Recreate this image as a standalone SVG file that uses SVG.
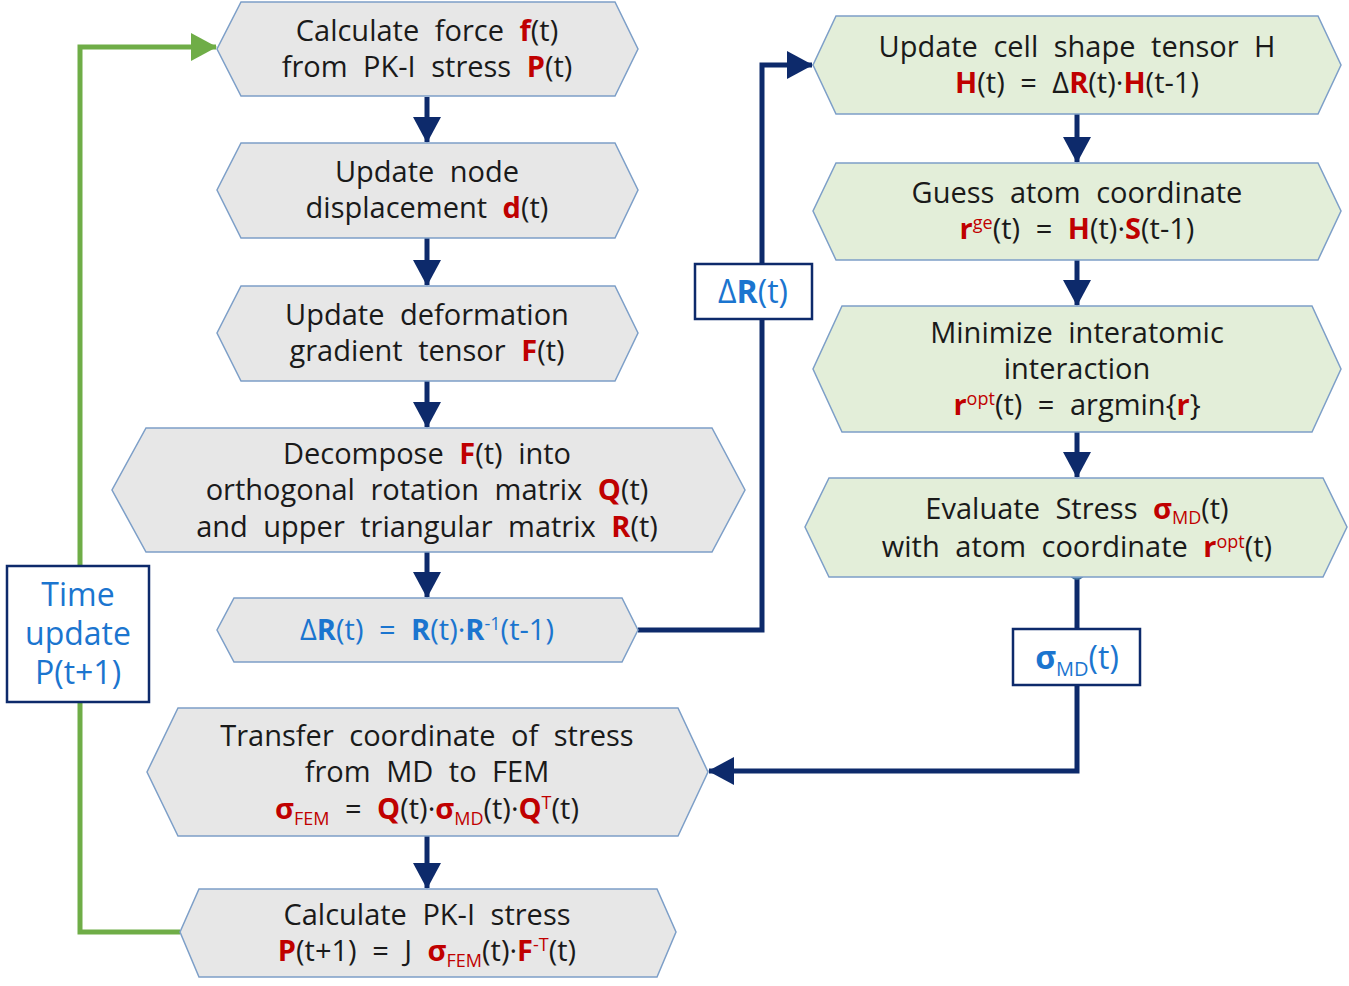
<svg xmlns="http://www.w3.org/2000/svg" width="1349" height="986" viewBox="0 0 1349 986">
<defs>
<style>
.g{fill:#e7e7e7;stroke:#7d9fc8;stroke-width:1.5}
.gr{fill:#e3eed9;stroke:#7d9fc8;stroke-width:1.5}
text{font-family:"Open Sans","Noto Sans",sans-serif;font-size:29px;fill:#1a1a1a;text-anchor:middle;word-spacing:8px}
.r{fill:#c00000;font-weight:bold}
.rn{fill:#c00000}
.b{fill:#1b75cf}
.bb{fill:#1b75cf;font-weight:bold}
.s{font-size:18px}
.c{fill:none;stroke:#0d2a6b;stroke-width:5}
.cg{fill:none;stroke:#6fad47;stroke-width:5}
.lb{fill:#fff;stroke:#0d2a6b;stroke-width:2.5}
</style>
<marker id="a" markerUnits="userSpaceOnUse" viewBox="0 0 26 28" refX="25" refY="14" markerWidth="26" markerHeight="28" orient="auto"><path d="M0,0 L26,14 L0,28 z" fill="#0d2a6b"/></marker>
<marker id="ag" markerUnits="userSpaceOnUse" viewBox="0 0 26 28" refX="25" refY="14" markerWidth="26" markerHeight="28" orient="auto"><path d="M0,0 L26,14 L0,28 z" fill="#6fad47"/></marker>
</defs>
<rect width="1349" height="986" fill="#fff"/>

<g id="connectors">
<line class="c" x1="427" y1="97" x2="427" y2="142" marker-end="url(#a)"/>
<line class="c" x1="427" y1="238" x2="427" y2="285" marker-end="url(#a)"/>
<line class="c" x1="427" y1="381" x2="427" y2="427" marker-end="url(#a)"/>
<line class="c" x1="427" y1="552" x2="427" y2="597" marker-end="url(#a)"/>
<line class="c" x1="427" y1="836" x2="427" y2="888" marker-end="url(#a)"/>
<line class="c" x1="1077" y1="114" x2="1077" y2="162" marker-end="url(#a)"/>
<line class="c" x1="1077" y1="260" x2="1077" y2="305" marker-end="url(#a)"/>
<line class="c" x1="1077" y1="432" x2="1077" y2="477" marker-end="url(#a)"/>
<polyline class="c" points="638,630 762,630 762,65 812,65" marker-end="url(#a)"/>
<polyline class="c" points="1077,571 1077,771 709,771" marker-end="url(#a)"/>
<polyline class="cg" points="180,932 80,932 80,47 216,47" marker-end="url(#ag)"/>
<circle cx="1077" cy="571" r="8" fill="#5b9bd5" stroke="#41719c" stroke-width="1.5"/>
</g>

<g id="n1">
<polygon class="g" points="241,2 615,2 638,49 615,96 241,96 217,49"/>
<text x="427" y="41">Calculate force <tspan class="r">f</tspan>(t)</text>
<text x="427" y="77">from PK-I stress <tspan class="r">P</tspan>(t)</text>
</g>
<g id="n2">
<polygon class="g" points="241,143 615,143 638,190 615,238 241,238 217,190"/>
<text x="427" y="182">Update node</text>
<text x="427" y="218">displacement <tspan class="r">d</tspan>(t)</text>
</g>
<g id="n3">
<polygon class="g" points="241,286 615,286 638,333 615,381 241,381 217,333"/>
<text x="427" y="325">Update deformation</text>
<text x="427" y="361">gradient tensor <tspan class="r">F</tspan>(t)</text>
</g>
<g id="n4">
<polygon class="g" points="146,428 712,428 745,490 712,552 146,552 112,490"/>
<text x="427" y="464">Decompose <tspan class="r">F</tspan>(t) into</text>
<text x="427" y="500">orthogonal rotation matrix <tspan class="r">Q</tspan>(t)</text>
<text x="427" y="537">and upper triangular matrix <tspan class="r">R</tspan>(t)</text>
</g>
<g id="n5">
<polygon class="g" points="234,598 622,598 638,630 622,662 234,662 217,630"/>
<text x="427" y="640" class="b">Δ<tspan class="bb">R</tspan>(t) = <tspan class="bb">R</tspan>(t)·<tspan class="bb">R</tspan><tspan class="s" dy="-10">-1</tspan><tspan dy="10">(t-1)</tspan></text>
</g>
<g id="n6">
<polygon class="g" points="178,708 678,708 708,772 678,836 178,836 147,772"/>
<text x="427" y="746">Transfer coordinate of stress</text>
<text x="427" y="782">from MD to FEM</text>
<text x="427" y="819"><tspan class="r">σ</tspan><tspan class="s rn" dy="6">FEM</tspan><tspan dy="-6"> = </tspan><tspan class="r">Q</tspan>(t)·<tspan class="r">σ</tspan><tspan class="s rn" dy="6">MD</tspan><tspan dy="-6">(t)·</tspan><tspan class="r">Q</tspan><tspan class="s rn" dy="-10">T</tspan><tspan dy="10">(t)</tspan></text>
</g>
<g id="n7">
<polygon class="g" points="199,889 657,889 676,932 657,977 199,977 180,932"/>
<text x="427" y="925">Calculate PK-I stress</text>
<text x="427" y="961"><tspan class="r">P</tspan>(t+1) = J <tspan class="r">σ</tspan><tspan class="s rn" dy="6">FEM</tspan><tspan dy="-6">(t)·</tspan><tspan class="r">F</tspan><tspan class="s rn" dy="-10">-T</tspan><tspan dy="10">(t)</tspan></text>
</g>

<g id="r1">
<polygon class="gr" points="836,16 1318,16 1341,65 1318,114 836,114 813,65"/>
<text x="1077" y="57">Update cell shape tensor H</text>
<text x="1077" y="93"><tspan class="r">H</tspan>(t) = Δ<tspan class="r">R</tspan>(t)·<tspan class="r">H</tspan>(t-1)</text>
</g>
<g id="r2">
<polygon class="gr" points="836,163 1318,163 1341,211 1318,260 836,260 813,211"/>
<text x="1077" y="203">Guess atom coordinate</text>
<text x="1077" y="239"><tspan class="r">r</tspan><tspan class="s rn" dy="-10">ge</tspan><tspan dy="10">(t) = </tspan><tspan class="r">H</tspan>(t)·<tspan class="r">S</tspan>(t-1)</text>
</g>
<g id="r3">
<polygon class="gr" points="842,306 1312,306 1341,369 1312,432 842,432 813,369"/>
<text x="1077" y="343">Minimize interatomic</text>
<text x="1077" y="379">interaction</text>
<text x="1077" y="415"><tspan class="r">r</tspan><tspan class="s rn" dy="-10">opt</tspan><tspan dy="10">(t) = argmin{</tspan><tspan class="r">r</tspan>}</text>
</g>
<g id="r4">
<polygon class="gr" points="829,478 1323,478 1347,527 1323,577 829,577 805,527"/>
<text x="1077" y="519">Evaluate Stress <tspan class="r">σ</tspan><tspan class="s rn" dy="5">MD</tspan><tspan dy="-5">(t)</tspan></text>
<text x="1077" y="557">with atom coordinate <tspan class="r">r</tspan><tspan class="s rn" dy="-9">opt</tspan><tspan dy="9">(t)</tspan></text>
</g>

<g id="lbl-dR">
<rect class="lb" x="695" y="264" width="117" height="55"/>
<text x="753" y="303" class="b" style="font-size:32px;word-spacing:0">Δ<tspan class="bb">R</tspan>(t)</text>
</g>
<g id="lbl-sMD">
<rect class="lb" x="1013" y="629" width="127" height="56"/>
<text x="1077" y="669" class="b" style="font-size:32px;word-spacing:0"><tspan class="bb">σ</tspan><tspan class="b" style="font-size:20px" dy="7">MD</tspan><tspan dy="-7">(t)</tspan></text>
</g>
<g id="lbl-time">
<rect class="lb" x="7" y="566" width="142" height="136"/>
<text x="78" y="606" class="b" style="font-size:32px;word-spacing:0">Time</text>
<text x="78" y="645" class="b" style="font-size:32px;word-spacing:0">update</text>
<text x="78" y="684" class="b" style="font-size:32px;word-spacing:0">P(t+1)</text>
</g>
</svg>
